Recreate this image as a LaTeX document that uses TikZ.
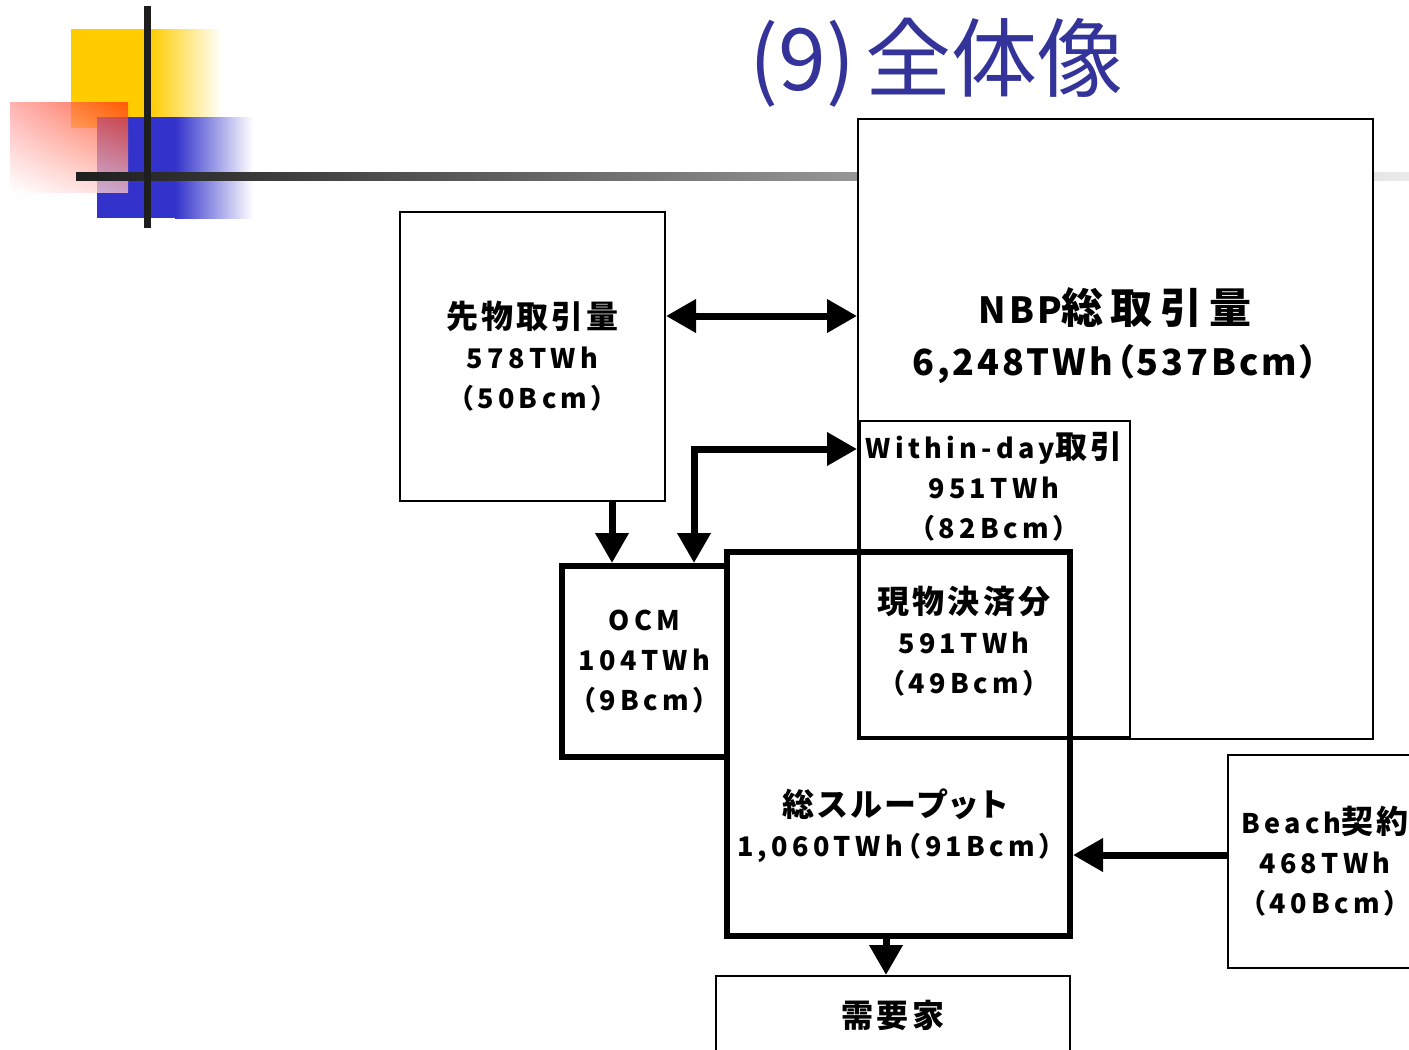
\documentclass[tikz,border=0pt]{standalone}
\usepackage{fontspec}
\usetikzlibrary{arrows.meta,shadings}
\newfontfamily\cjS{Noto Sans CJK JP}[LetterSpace=10,RawFeature=+palt]
\newfontfamily\ltS{Noto Sans CJK JP}[LetterSpace=16,RawFeature=+palt]
\newfontfamily\cjB{Noto Sans CJK JP}[LetterSpace=17,RawFeature=+palt]
\newfontfamily\ltB{Noto Sans CJK JP}[LetterSpace=8,RawFeature=+palt]
\newfontfamily\jpt{Noto Sans CJK JP}
\newcommand\cks[1]{{\cjS\fontsize{32}{40}\selectfont #1}}
\newcommand\ckb[1]{{\cjB\fontsize{42}{52}\selectfont #1}}
\definecolor{titleblue}{HTML}{333399}
\definecolor{decoyellow}{HTML}{FFCC00}
\definecolor{decoblue}{HTML}{3333CC}
\definecolor{decored}{HTML}{FF3300}
\definecolor{decopink}{HTML}{FF9999}
\definecolor{decolight}{HTML}{FFC8C8}
\definecolor{bardark}{HTML}{1E1E1E}
\definecolor{barlight}{HTML}{EBEBEB}
\begin{document}
\begin{tikzpicture}[x=1pt,y=-1pt,
  thinbox/.style={draw=black, line width=2pt, fill=white, inner sep=0pt},
  thickbox/.style={draw=black, line width=6pt, inner sep=0pt},
  lbl/.style={font=\ltS\bfseries\fontsize{27}{40}\selectfont, align=center, text=black},
  biglbl/.style={font=\ltB\bfseries\fontsize{36}{52}\selectfont, align=center, text=black, inner sep=0pt},
  tip/.tip={Triangle[length=30pt,width=32pt]},
  arr/.style={line width=7pt, -tip},
  dblarr/.style={line width=7pt, tip-tip},
]
\useasboundingbox (0,0) rectangle (1409,1050);
\clip (0,0) rectangle (1409,1050);
% decoration
\fill[decoyellow] (71,29) rectangle (151,128);
\shade[left color=decoyellow, right color=white] (150,29) rectangle (222,128);
\fill[decoblue] (97,117) rectangle (176,218);
\shade[left color=decoblue, right color=white] (175,117) rectangle (253,218);
\shade[upper right=decored, upper left=decopink, lower right=decolight, lower left=white, opacity=0.75] (10,102) rectangle (128,192);
\shade[left color=bardark, right color=barlight] (76,172) rectangle (1409,180);
\fill[bardark] (144,6) rectangle (151,228);
% title
\node[anchor=base west, font=\jpt\fontsize{86}{94}\selectfont, text=titleblue, inner sep=0pt] (title) at (749,90) {(9)\hspace{10pt}全体像};
% boxes
\node[thinbox, minimum width=515pt, minimum height=620pt] (nbp) at (1115.5,429) {};
\node[thinbox, minimum width=270pt, minimum height=316pt] (wd) at (995,579) {};
\node[biglbl] (nbptxt) at (1115,336) {NBP\ckb{総取引量}\\6,248TWh（537Bcm）};
\node[lbl] (wdtxt) at (994,486) {Within-day\cks{取引}\\951TWh\\（82Bcm）};
\node[thinbox, lbl, minimum width=265pt, minimum height=289pt] (fut) at (532.5,356.5) {\cks{先物取引量}\\578TWh\\（50Bcm）};
\node[thickbox, minimum width=343pt, minimum height=384pt] (thr) at (898.5,744) {};
\node[lbl] (gentxt) at (964,641) {\cks{現物決済分}\\591TWh\\（49Bcm）};
\node[lbl] (thrtxt) at (895,826) {\cks{総スループット}\\1,060TWh（91Bcm）};
\node[thickbox, fill=white, lbl, minimum width=165pt, minimum height=191pt] (ocm) at (644.5,661.5) {OCM\\104TWh\\（9Bcm）};
\node[thinbox, lbl, minimum width=194pt, minimum height=213pt] (beach) at (1325,861.5) {Beach\cks{契約}\\468TWh\\（40Bcm）};
\node[thinbox, lbl, minimum width=354pt, minimum height=78pt] (dem) at (893,1015) {\cks{需要家}};
% connectors
\coordinate (ya) at (0,316);
\coordinate (yb) at (0,449);
\coordinate (yc) at (0,855);
\coordinate (xa) at (612,0);
\coordinate (xb) at (694,0);
\coordinate (xc) at (886,0);
\draw[dblarr] (fut.east |- ya) -- (nbp.west |- ya);
\draw[arr] (fut.south -| xa) -- (ocm.north -| xa);
\draw[dblarr] (nbp.west |- yb) -| (ocm.north -| xb);
\draw[arr] (thr.south -| xc) -- (dem.north -| xc);
\draw[arr] (beach.west |- yc) -- (thr.east |- yc);
\end{tikzpicture}
\end{document}
